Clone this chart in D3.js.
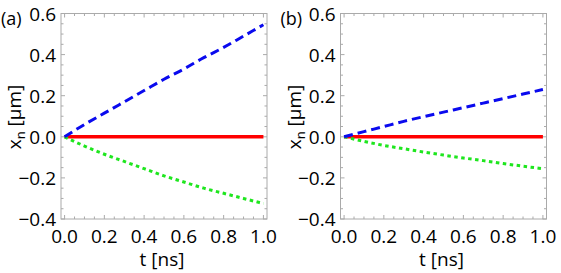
<!DOCTYPE html>
<html>
<head>
<meta charset="utf-8">
<script src="https://cdn.jsdelivr.net/npm/d3@7"></script>
<style>
body { margin: 0; background: #fff; }
svg text { font-family: "Open Sans", sans-serif; fill: #000; }
</style>
</head>
<body>
<div id="chart"></div>
<script>
// time points (ns)
var tVals = [0, 0.1, 0.2, 0.3, 0.4, 0.5, 0.6, 0.7, 0.8, 0.9, 1.0];

// panel (a)
var blueA  = [0, 0.06, 0.115, 0.17, 0.225, 0.28, 0.33, 0.385, 0.435, 0.49, 0.545];
var greenA = [0, -0.045, -0.085, -0.12, -0.155, -0.19, -0.22, -0.25, -0.275, -0.30, -0.325];
var redA   = [0, 0, 0, 0, 0, 0, 0, 0, 0, 0, 0];

// panel (b)
var blueB  = [0, 0.025, 0.05, 0.075, 0.098, 0.12, 0.142, 0.164, 0.186, 0.208, 0.23];
var greenB = [0, -0.022, -0.042, -0.058, -0.074, -0.089, -0.103, -0.116, -0.13, -0.143, -0.155];
var redB   = [0, 0, 0, 0, 0, 0, 0, 0, 0, 0, 0];

var xTicks = [0, 0.2, 0.4, 0.6, 0.8, 1.0];
var yTicks = [-0.4, -0.2, 0, 0.2, 0.4, 0.6];

var W = 561, H = 273;
var svg = d3.select("#chart").append("svg")
    .attr("width", W)
    .attr("height", H);

function panel(left, label, blue, green, red) {
  var fx0 = left, fx1 = left + 206,
      fy0 = 13.5, fy1 = 219;
  var x = d3.scaleLinear().domain([-0.018, 1.018]).range([fx0, fx1]);
  var y = d3.scaleLinear().domain([-0.4, 0.6]).range([fy1, fy0]);

  var g = svg.append("g");

  // frame
  g.append("rect")
    .attr("x", fx0).attr("y", fy0)
    .attr("width", fx1 - fx0).attr("height", fy1 - fy0)
    .attr("fill", "none")
    .attr("stroke", "#aaa")
    .attr("stroke-width", 1);

  // minor + major ticks, inside frame on all sides
  var xMinor = d3.range(0, 1.0001, 0.05);
  xMinor.forEach(function(v) {
    var major = Math.abs(v * 5 - Math.round(v * 5)) < 1e-6;
    var len = major ? 4 : 2.5;
    g.append("line").attr("x1", x(v)).attr("x2", x(v))
      .attr("y1", fy1).attr("y2", fy1 - len).attr("stroke", "#aaa");
    g.append("line").attr("x1", x(v)).attr("x2", x(v))
      .attr("y1", fy0).attr("y2", fy0 + len).attr("stroke", "#aaa");
  });
  var yMinor = d3.range(-0.4, 0.6001, 0.05);
  yMinor.forEach(function(v) {
    var major = Math.abs(v * 5 - Math.round(v * 5)) < 1e-6;
    var len = major ? 4 : 2.5;
    g.append("line").attr("y1", y(v)).attr("y2", y(v))
      .attr("x1", fx0).attr("x2", fx0 + len).attr("stroke", "#aaa");
    g.append("line").attr("y1", y(v)).attr("y2", y(v))
      .attr("x1", fx1).attr("x2", fx1 - len).attr("stroke", "#aaa");
  });

  // tick labels
  g.selectAll(".xl").data(xTicks).enter().append("text")
    .attr("x", function(d) { return x(d); })
    .attr("y", 243)
    .attr("text-anchor", "middle")
    .style("font-size", "19px")
    .text(function(d) { return d.toFixed(1); });
  g.selectAll(".yl").data(yTicks).enter().append("text")
    .attr("x", fx0 - 5)
    .attr("y", function(d) { return y(d) + 7; })
    .attr("text-anchor", "end")
    .style("font-size", "19px")
    .text(function(d) { return d === 0 ? "0.0" : (d < 0 ? "\u2212" + (-d).toFixed(1) : d.toFixed(1)); });

  // axis labels
  g.append("text")
    .attr("x", (fx0 + fx1) / 2 - 2)
    .attr("y", 266)
    .attr("text-anchor", "middle")
    .style("font-size", "19px")
    .text("t [ns]");
  var yl = g.append("text")
    .attr("transform", "translate(" + (left - 40) + "," + 117 + ") rotate(-90)")
    .attr("text-anchor", "middle")
    .style("font-size", "19px");
  yl.append("tspan").text("x");
  yl.append("tspan").attr("dy", 4).style("font-size", "13px").text("n");
  yl.append("tspan").attr("dy", -4).text(" [\u03bcm]");

  g.append("text")
    .attr("x", left - 60)
    .attr("y", 25)
    .style("font-size", "18px")
    .text(label);

  var line = d3.line()
    .x(function(d, i) { return x(tVals[i]); })
    .y(function(d) { return y(d); })
    .curve(d3.curveMonotoneX);

  g.append("path").datum(red)
    .attr("d", line)
    .attr("fill", "none")
    .attr("stroke", "#ff0000")
    .attr("stroke-width", 3.5);
  g.append("path").datum(green)
    .attr("d", line)
    .attr("fill", "none")
    .attr("stroke", "#1ee61e")
    .attr("stroke-width", 3)
    .attr("stroke-dasharray", "3.5,3.5");
  g.append("path").datum(blue)
    .attr("d", line)
    .attr("fill", "none")
    .attr("stroke", "#0a0aee")
    .attr("stroke-width", 3)
    .attr("stroke-dasharray", "9,5");
}

panel(61, "(a)", blueA, greenA, redA);
panel(340.5, "(b)", blueB, greenB, redB);
</script>
</body>
</html>
